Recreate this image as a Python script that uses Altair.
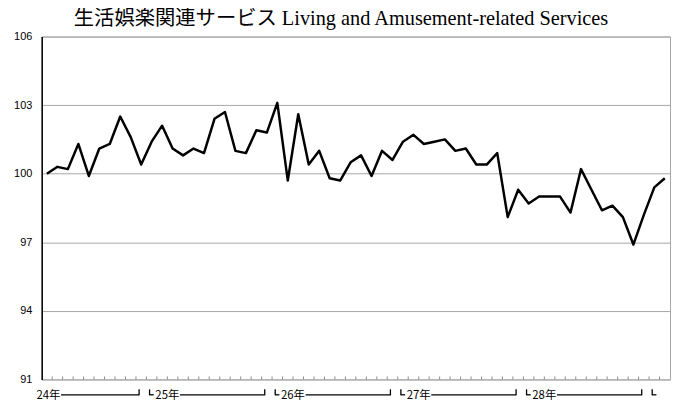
import altair as alt
import pandas as pd

# monthly index values (平成24年3月 – 平成29年2月)
values = [100.0, 100.3, 100.2, 101.3, 99.9, 101.1, 101.3, 102.5, 101.6, 100.4,
          101.4, 102.1, 101.1, 100.8, 101.1, 100.9, 102.4, 102.7, 101.0, 100.9, 101.9, 101.8,
          103.1, 99.7, 102.6, 100.4, 101.0, 99.8, 99.7, 100.5, 100.8, 99.9, 101.0, 100.6,
          101.4, 101.7, 101.3, 101.4, 101.5, 101.0, 101.1, 100.4, 100.4, 100.9, 98.1, 99.3,
          98.7, 99.0, 99.0, 99.0, 98.3, 100.2, 99.3, 98.4, 98.6, 98.1, 96.9, 98.2, 99.4, 99.8]

years = ["24年", "25年", "26年", "27年", "28年", "29年"]
months_in_year = [10, 12, 12, 12, 12, 2]
y_ticks = [91, 94, 97, 100, 103, 106]

n = len(values)
line_df = pd.DataFrame({"x": list(range(n)), "v": values})

# year label decorations, derived from the month counts (in month-index units)
txt_rows, hrows, vrows = [], [], []
pos = 0
last = len(years) - 1
for i, (yr, m) in enumerate(zip(years, months_in_year)):
    s, e = pos - 0.5, pos + m - 0.5
    if i > 0:
        vrows.append({"x": s + 0.3})
        hrows.append({"x": s + 0.3, "x2": s + 0.7})
    if i < last:
        tx = s - 0.5 if i == 0 else s + 0.85
        txt_rows.append({"x": tx, "label": yr})
        hrows.append({"x": tx + 2.35, "x2": e - 0.7})
        vrows.append({"x": e - 0.7})
    pos += m
txt_df = pd.DataFrame(txt_rows)
h_df = pd.DataFrame(hrows)
v_df = pd.DataFrame(vrows)
tick_df = pd.DataFrame({"x": [i + 0.5 for i in range(n - 1)]})

xscale = alt.Scale(domain=[-0.5, n - 0.5], nice=False, zero=False)
yscale = alt.Scale(domain=[91, 106], nice=False, zero=False)

line = alt.Chart(line_df).mark_line(color="black", strokeWidth=2.5, strokeJoin="round").encode(
    x=alt.X("x:Q", scale=xscale,
            axis=alt.Axis(labels=False, ticks=False, grid=False, domainColor="black",
                          domainWidth=1.5, title=None)),
    y=alt.Y("v:Q", scale=yscale,
            axis=alt.Axis(values=y_ticks, grid=True, gridColor="#a6a6a6", gridWidth=1,
                          domainColor="black", domainWidth=1.5, ticks=False, tickSize=0,
                          labelPadding=10, labelFont="Liberation Sans", labelFontSize=11,
                          labelColor="black", labelBaseline="middle", title=None)),
)

ticks = alt.Chart(tick_df).mark_rule(color="#8c8c8c", strokeWidth=1).encode(
    x=alt.X("x:Q", scale=xscale, axis=None),
    y=alt.value(343),
    y2=alt.value(346),
)

year_text = alt.Chart(txt_df).mark_text(
    align="left", baseline="middle", font="Noto Sans CJK JP",
    fontSize=11.5, color="black"
).encode(
    x=alt.X("x:Q", scale=xscale, axis=None),
    y=alt.value(362.5),
    text="label:N",
)

hlines = alt.Chart(h_df).mark_rule(color="black", strokeWidth=1.3).encode(
    x=alt.X("x:Q", scale=xscale, axis=None),
    x2="x2:Q",
    y=alt.value(361.5),
)

vlines = alt.Chart(v_df).mark_rule(color="black", strokeWidth=1.3).encode(
    x=alt.X("x:Q", scale=xscale, axis=None),
    y=alt.value(356),
    y2=alt.value(362),
)

chart = alt.layer(ticks, line, hlines, vlines, year_text).properties(
    width=634,
    height=346,
    padding={"left": 34, "top": 27, "right": 2, "bottom": 24},
    autosize=alt.AutoSizeParams(type="none"),
    title=alt.TitleParams(
        text="生活娯楽関連サービス Living and Amusement-related Services",
        font="Liberation Serif, Noto Sans CJK JP", fontSize=20.5, fontWeight="normal",
        color="black", anchor="middle", dx=-15, offset=1,
    ),
).configure_view(stroke="#a6a6a6", strokeWidth=1)

chart.save("out.html", embed_options={"renderer": "svg", "actions": False})
